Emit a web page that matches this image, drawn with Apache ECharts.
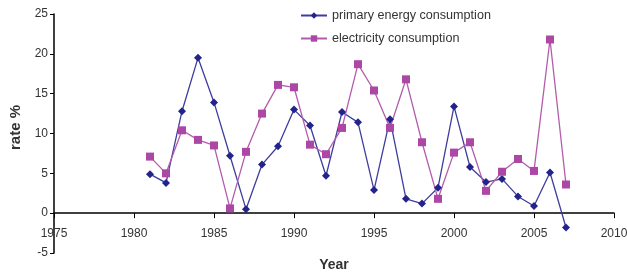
<!DOCTYPE html>
<html>
<head>
<meta charset="utf-8">
<script src="https://cdn.jsdelivr.net/npm/echarts@6/dist/echarts.min.js"></script>
<style>
  html, body { margin: 0; padding: 0; background: #fff; }
  #chart { width: 627px; height: 273px; }
</style>
</head>
<body>
<div id="chart"></div>
<script>
const years = [1981, 1982, 1983, 1984, 1985, 1986, 1987, 1988, 1989, 1990, 1991, 1992, 1993, 1994,
  1995, 1996, 1997, 1998, 1999, 2000, 2001, 2002, 2003, 2004, 2005, 2006, 2007];
const primaryEnergy = [4.9, 3.8, 12.8, 19.5, 13.9, 7.2, 0.5, 6.1, 8.4, 13.0, 11.0, 4.7, 12.7, 11.4,
  2.9, 11.8, 1.8, 1.2, 3.2, 13.4, 5.8, 3.9, 4.3, 2.1, 0.9, 5.1, -1.8];
const electricity = [7.1, 5.0, 10.4, 9.2, 8.5, 0.6, 7.7, 12.5, 16.1, 15.8, 8.6, 7.4, 10.7, 18.7,
  15.4, 10.7, 16.8, 8.9, 1.8, 7.6, 8.9, 2.8, 5.2, 6.8, 5.3, 21.8, 3.6];

const pair = (vals) => years.map((y, i) => [y, vals[i]]);

const chart = echarts.init(document.getElementById('chart'));
const axisText = { color: '#333', fontFamily: 'Liberation Sans, Arial', fontSize: 12 };

chart.setOption({
  animation: false,
  textStyle: { fontFamily: 'Liberation Sans, Arial' },
  grid: { left: 54, right: 13, top: 14, bottom: 20, containLabel: false, outerBoundsMode: 'none' },
  legend: {
    orient: 'vertical',
    left: 300,
    top: 9,
    padding: 0,
    itemGap: 10,
    itemWidth: 26,
    itemHeight: 8,
    textStyle: { color: '#333', fontSize: 12.6 },
    data: ['primary energy consumption', 'electricity consumption']
  },
  xAxis: {
    type: 'value',
    min: 1975,
    max: 2010,
    interval: 5,
    name: 'Year',
    nameLocation: 'middle',
    nameGap: 5,
    nameTextStyle: { color: '#333', fontSize: 14, fontWeight: 'bold' },
    splitLine: { show: false },
    axisLine: { onZero: true, lineStyle: { color: '#000', width: 1.5 } },
    axisTick: { show: true, length: 5, lineStyle: { color: '#000' } },
    // labels stay at the grid bottom, so pull them up under the zero line
    axisLabel: Object.assign({ margin: -25, formatter: (v) => String(v) }, axisText)
  },
  yAxis: {
    type: 'value',
    min: -5,
    max: 25,
    interval: 5,
    name: 'rate %',
    nameLocation: 'middle',
    nameGap: 22,
    nameRotate: 90,
    nameTextStyle: { color: '#333', fontSize: 15, fontWeight: 'bold', padding: [0, 0, 0, 12] },
    splitLine: { show: false },
    axisLine: { show: true, lineStyle: { color: '#000', width: 1.5 } },
    axisTick: { show: true, length: 4, lineStyle: { color: '#000' } },
    axisLabel: Object.assign({ margin: 6 }, axisText)
  },
  series: [
    {
      name: 'primary energy consumption',
      type: 'line',
      data: pair(primaryEnergy),
      symbol: 'diamond',
      symbolSize: 8,
      itemStyle: { color: '#23238c' },
      lineStyle: { color: '#3d3d9e', width: 1.3 }
    },
    {
      name: 'electricity consumption',
      type: 'line',
      data: pair(electricity),
      symbol: 'rect',
      symbolSize: 8,
      itemStyle: { color: '#ad47a6' },
      lineStyle: { color: '#b35cab', width: 1.3 }
    }
  ]
});
</script>
</body>
</html>
